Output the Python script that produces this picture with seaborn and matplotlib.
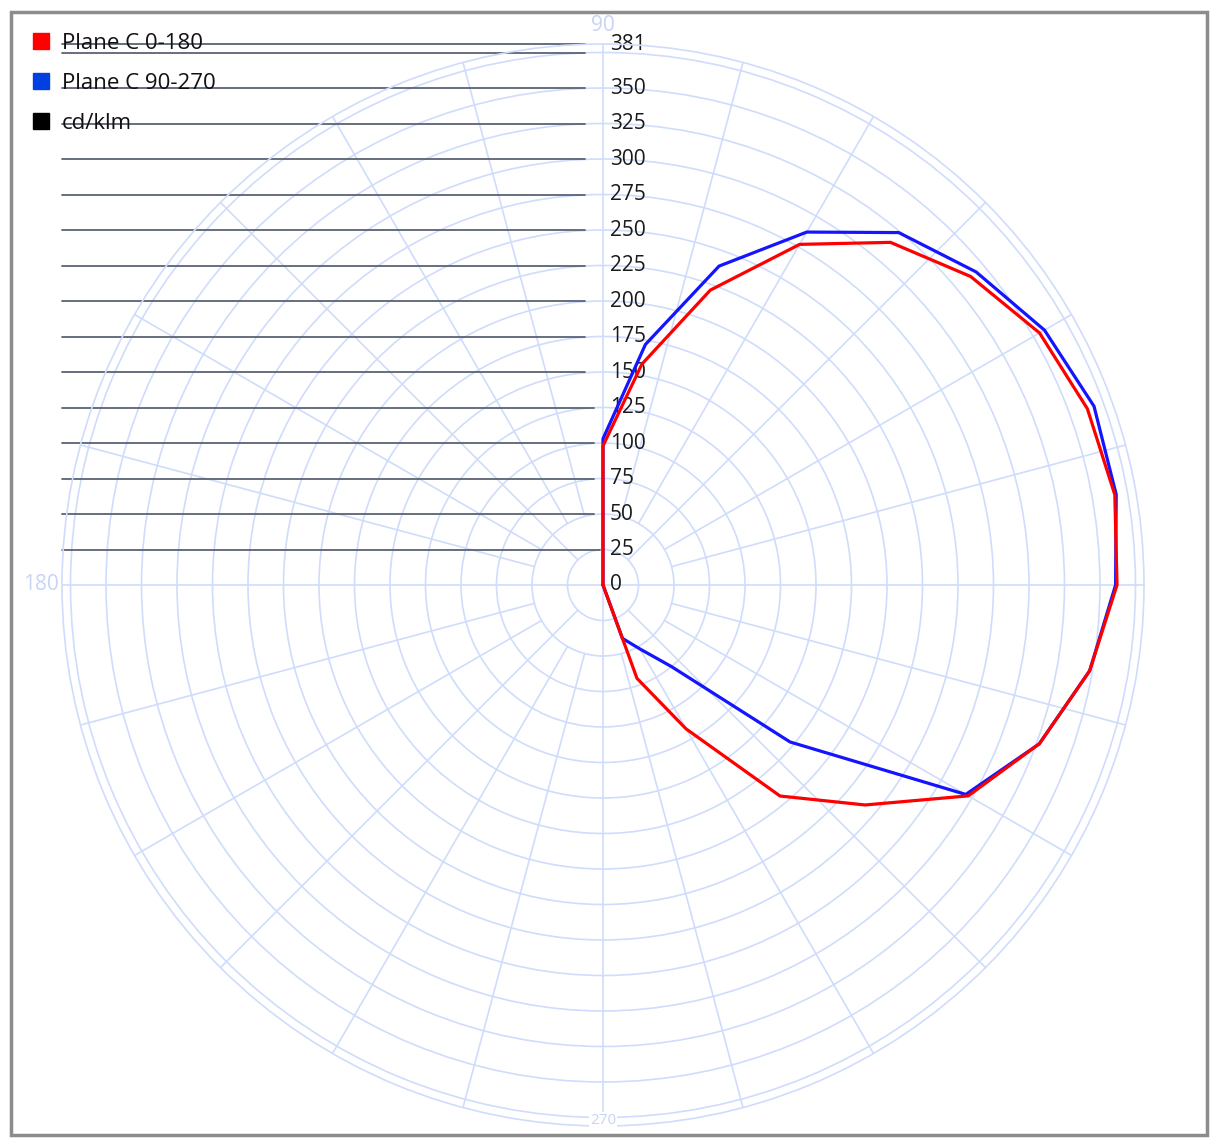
import numpy as np
import pandas as pd
import matplotlib
matplotlib.use('Agg')
import matplotlib.pyplot as plt
from matplotlib.lines import Line2D
from matplotlib.patches import Rectangle
import seaborn as sns

# данные (углы в градусах, сила света в cd/klm)
angles = [-90, -80, -70, -60, -50, -40, -30, -20, -10, 0,
          10, 20, 30, 40, 50, 60, 70, 80, 90]
plane_c0_180 = [0, 0, 70, 117, 194, 241, 297, 327, 348, 362,
                366, 363, 355, 338, 315, 277, 221, 158, 98]
plane_c90_270 = [0, 0, 40, 52, 75, 172, 295, 327, 348, 361,
                 367, 368, 359, 343, 324, 287, 239, 172, 103]

r_max = 381
r_labels = [0, 25, 50, 75, 100, 125, 150, 175, 200, 225, 250, 275, 300, 325, 350, 381]
r_lines = [25, 50, 75, 100, 125, 150, 175, 200, 225, 250, 275, 300, 325, 350, 375, 381]
circles = [25, 50, 75, 100, 125, 150, 175, 200, 225, 250, 275, 300, 325, 350, 375]
names = ['Plane C 0-180', 'Plane C 90-270', 'cd/klm']
colors = {'Plane C 0-180': '#ff0000', 'Plane C 90-270': '#1414ff'}

sns.set_theme(style='white')
plt.rcParams['font.family'] = ['Open Sans', 'DejaVu Sans']

rows = []
for name, vals in [('Plane C 90-270', plane_c90_270), ('Plane C 0-180', plane_c0_180)]:
    pts = list(zip(angles, vals)) + [(angles[0], vals[0])]  # замкнутый контур
    for i, (a, v) in enumerate(pts):
        rows.append({'plane': name, 'theta': np.deg2rad(a), 'cd': v, 'i': i})
df = pd.DataFrame(rows)

W, H = 1212, 1138
cx, cy, R = 603, 585, 541
fig = plt.figure(figsize=(W / 100, H / 100), dpi=100)
fig.patch.set_facecolor('white')
rect = [(cx - R) / W, (H - cy - R) / H, 2 * R / W, 2 * R / H]
ax = fig.add_axes(rect, projection='polar')
cart = fig.add_axes(rect)
cart.set_xlim(-r_max, r_max)
cart.set_ylim(-r_max, r_max)
cart.axis('off')
cart.patch.set_alpha(0)

gridc = '#cfdcfb'
ax.set_ylim(0, r_max)
ax.set_yticks(circles)
ax.set_yticklabels([])
ax.set_xticks(np.deg2rad([0, 90, 180, 270]))
ax.set_xticklabels([])
ax.grid(True, color=gridc, lw=1.2)
ax.spines['polar'].set_color(gridc)
ax.spines['polar'].set_linewidth(1.2)

# дополнительные лучи сетки
for a in range(15, 360, 15):
    if a % 90 == 0:
        continue
    start = 25 if a % 45 == 0 else 50
    ax.plot([np.deg2rad(a)] * 2, [start, r_max], color=gridc, lw=1.2, zorder=1)

# горизонтальные линии шкалы и подписи
for v in r_lines:
    end = -13 if v >= 150 else (-6 if v >= 50 else -2)
    ax.plot([-r_max, end], [v, v], transform=cart.transData, color='#5b6274',
            lw=1.3, clip_on=False, zorder=2.2)
for v in r_labels:
    ax.text(5, v, str(v), transform=cart.transData, ha='left', va='center',
            fontsize=15, color='#1a1a1a', zorder=2.5, clip_on=False)

ac = '#c6d4f6'
ax.text(0, 394, '90', transform=cart.transData, ha='center', va='center',
        fontsize=15, color=ac, clip_on=False)
ax.text(-383, 0, '180', transform=cart.transData, ha='right', va='center',
        fontsize=15, color=ac, clip_on=False)
ax.text(0, -377, '270', transform=cart.transData, ha='center', va='center',
        fontsize=11, color=ac, clip_on=False,
        bbox=dict(facecolor='white', edgecolor='none', pad=0.5))

sns.lineplot(data=df, x='theta', y='cd', hue='plane',
             hue_order=['Plane C 90-270', 'Plane C 0-180'], palette=colors,
             sort=False, estimator=None, units='plane', lw=2.3, legend=False,
             ax=ax, zorder=3)
ax.set_xlabel('')
ax.set_ylabel('')
ax.set_ylim(0, r_max)

handles = [Line2D([], [], marker='s', ls='None', markersize=12, color=c)
           for c in ['#ff0000', '#0040e0', '#000000']]
leg = fig.legend(handles, names, loc='upper left', bbox_to_anchor=(32 / W, 1 - 33 / H),
                 frameon=False, fontsize=16, handlelength=0.8, handletextpad=0.55,
                 borderpad=0, borderaxespad=0, labelspacing=0.86)
for t in leg.get_texts():
    t.set_color('#111111')

fig.add_artist(Rectangle((11 / W, 3 / H), (1207 - 11) / W, (1138 - 12 - 3) / H,
                         transform=fig.transFigure, fill=False,
                         edgecolor='#8c8c8c', lw=2.5))

fig.savefig('out.png', dpi=100)
